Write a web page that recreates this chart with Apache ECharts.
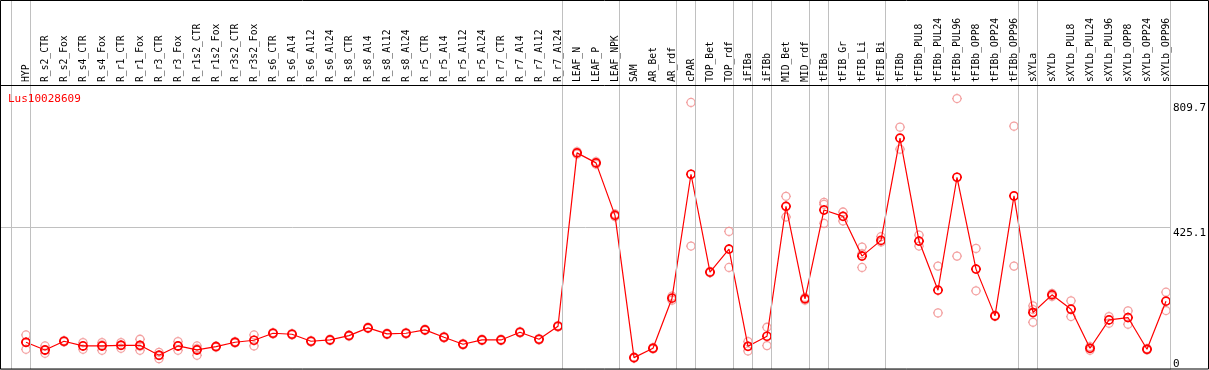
<!DOCTYPE html>
<html>
<head>
<meta charset="utf-8">
<script src="https://cdn.jsdelivr.net/npm/echarts@6/dist/echarts.min.js"></script>
<style>
html,body{margin:0;padding:0;background:#fff;}
#chart{width:1209px;height:370px;}
</style>
</head>
<body>
<div id="chart"></div>
<script>
const title = 'Lus10028609';
const categories = ['HYP','R_s2_CTR','R_s2_Fox','R_s4_CTR','R_s4_Fox','R_r1_CTR','R_r1_Fox','R_r3_CTR','R_r3_Fox','R_r1s2_CTR','R_r1s2_Fox','R_r3s2_CTR','R_r3s2_Fox','R_s6_CTR','R_s6_Al4','R_s6_Al12','R_s6_Al24','R_s8_CTR','R_s8_Al4','R_s8_Al12','R_s8_Al24','R_r5_CTR','R_r5_Al4','R_r5_Al12','R_r5_Al24','R_r7_CTR','R_r7_Al4','R_r7_Al12','R_r7_Al24','LEAF_N','LEAF_P','LEAF_NPK','SAM','AR_Bet','AR_rdf','cPAR','TOP_Bet','TOP_rdf','iFIBa','iFIBb','MID_Bet','MID_rdf','tFIBa','tFIB_Gr','tFIB_Li','tFIB_Bi','tFIBb','tFIBb_PUL8','tFIBb_PUL24','tFIBb_PUL96','tFIBb_OPP8','tFIBb_OPP24','tFIBb_OPP96','sXYLa','sXYLb','sXYLb_PUL8','sXYLb_PUL24','sXYLb_PUL96','sXYLb_OPP8','sXYLb_OPP24','sXYLb_OPP96'];
const meanValues = [80,57,83,69,69,71,71,41,69,57,67,80,86,107,104,83,87,100,123,105,107,117,95,74,87,87,110,89,128,647,617,460,34,62,212,583,290,359,68,98,487,210,476,457,338,385,691,383,236,574,299,159,518,169,222,179,62,147,154,59,203];
const rep1 = [102,69,85,79,79,79,89,50,82,69,69,82,102,109,106,85,89,102,125,107,109,119,97,76,89,89,112,91,130,651,621,464,36,64,218,798,292,412,82,125,517,214,499,470,365,396,724,401,308,809.7,361,161,727,189,226,204,67,157,174,61,230];
const rep2 = [59,47,81,59,56,62,56,31,56,41,65,78,69,105,102,81,85,98,121,103,105,115,93,72,85,85,108,87,126,643,613,456,32,60,206,368,288,304,54,70,455,206,493,443,304,380,658,368,168,338,234,157,308,140,217,157,56,137,134,57,175];
const rep3 = [80,56,null,null,72,72,68,42,69,61,null,null,null,null,null,null,null,null,null,null,null,null,null,null,null,null,null,null,null,null,null,null,null,null,null,null,null,null,null,null,null,null,436,null,345,null,null,null,null,null,null,null,null,178,null,null,null,null,null,null,null];
const groupStarts = ['HYP','R_s2_CTR','LEAF_N','SAM','cPAR','TOP_Bet','iFIBa','iFIBb','MID_Bet','tFIBa','tFIB_Gr','tFIBb','sXYLa','sXYLb'];
const yMax = 850.2;
const yTicks = [0, 425.1, 809.7];

const repData = [];
[rep1, rep2, rep3].forEach(function (arr) {
  arr.forEach(function (v, i) { if (v != null) repData.push([categories[i], v]); });
});
const sepLines = groupStarts.map(function (n) { return { xAxis: categories.indexOf(n) }; });
sepLines.push({ xAxis: categories.length });

const mono = 'DejaVu Sans Mono';
const markerPath = 'path://M1,5A4,4,0,1,1,9,5A4,4,0,1,1,1,5ZM5,0L5,1M5,9L5,10M0,5L1,5M9,5L10,5';

const chart = echarts.init(document.getElementById('chart'), null, { renderer: 'canvas' });
chart.setOption({
  animation: false,
  backgroundColor: '#fff',
  title: {
    text: title, left: 3, top: 89,
    textStyle: { color: '#ff0000', fontFamily: mono, fontSize: 11, fontWeight: 'normal' }
  },
  grid: [
    { left: 16.5, right: 33.5, top: 85, bottom: 1 },
    { left: 11, right: 39, top: 0, bottom: 1 },
    { left: 0, right: 32, top: 85, bottom: 1 }
  ],
  xAxis: [
    {
      type: 'category', gridIndex: 0, data: categories, position: 'top', boundaryGap: true,
      axisLine: { show: false }, axisTick: { show: false },
      axisLabel: { interval: 0, rotate: 90, margin: 3, fontFamily: mono, fontSize: 9.7, color: '#000' },
      splitLine: { show: false }
    },
    { type: 'value', gridIndex: 1, min: 0, max: categories.length, show: false },
    { type: 'value', gridIndex: 2, min: 0, max: 1, show: false }
  ],
  yAxis: [
    { type: 'value', gridIndex: 0, min: 0, max: yMax, show: false },
    { type: 'value', gridIndex: 1, min: 0, max: 1, show: false },
    {
      type: 'value', gridIndex: 2, min: 0, max: yMax, interval: yMax / 2, position: 'right',
      axisLine: { show: false }, axisTick: { show: false },
      splitLine: { show: true, lineStyle: { color: '#c0c0c0', width: 1 } },
      axisLabel: {
        customValues: yTicks, margin: 2, align: 'left', fontFamily: mono, fontSize: 11, color: '#000',
        formatter: function (v) {
          if (v === 0) return '{z|0}';
          if (Math.abs(v - 425.1) < 0.01) return '{m|425.1}';
          return '{t|' + v + '}';
        },
        rich: {
          z: { fontFamily: mono, fontSize: 11, padding: [0, 0, 10, 0] },
          m: { fontFamily: mono, fontSize: 11, padding: [13, 0, 0, 0] },
          t: { fontFamily: mono, fontSize: 11, padding: [20, 0, 0, 0] }
        }
      }
    }
  ],
  series: [
    {
      type: 'line', xAxisIndex: 1, yAxisIndex: 1, data: [], silent: true,
      markLine: {
        silent: true, symbol: 'none', label: { show: false },
        lineStyle: { color: '#c0c0c0', width: 1, type: 'solid' },
        data: sepLines
      }
    },
    {
      type: 'scatter', xAxisIndex: 0, yAxisIndex: 0, data: repData, z: 3,
      symbol: markerPath, symbolSize: 10,
      itemStyle: { color: 'rgba(0,0,0,0)', borderColor: '#f08a8a', borderWidth: 1.3 }
    },
    {
      type: 'line', xAxisIndex: 0, yAxisIndex: 0, data: meanValues, z: 4,
      symbol: markerPath, symbolSize: 10, showAllSymbol: true,
      lineStyle: { color: '#ff0000', width: 1.2 },
      itemStyle: { color: 'rgba(0,0,0,0)', borderColor: '#ff0000', borderWidth: 1.7 }
    }
  ],
  graphic: [
    { type: 'rect', z: 100, silent: true, shape: { x: 0.5, y: 0.5, width: 1208, height: 368.5 }, style: { fill: null, stroke: '#000', lineWidth: 1 } },
    { type: 'line', z: 100, silent: true, shape: { x1: 0, y1: 85.5, x2: 1209, y2: 85.5 }, style: { stroke: '#000', lineWidth: 1 } }
  ]
});
</script>
</body>
</html>
